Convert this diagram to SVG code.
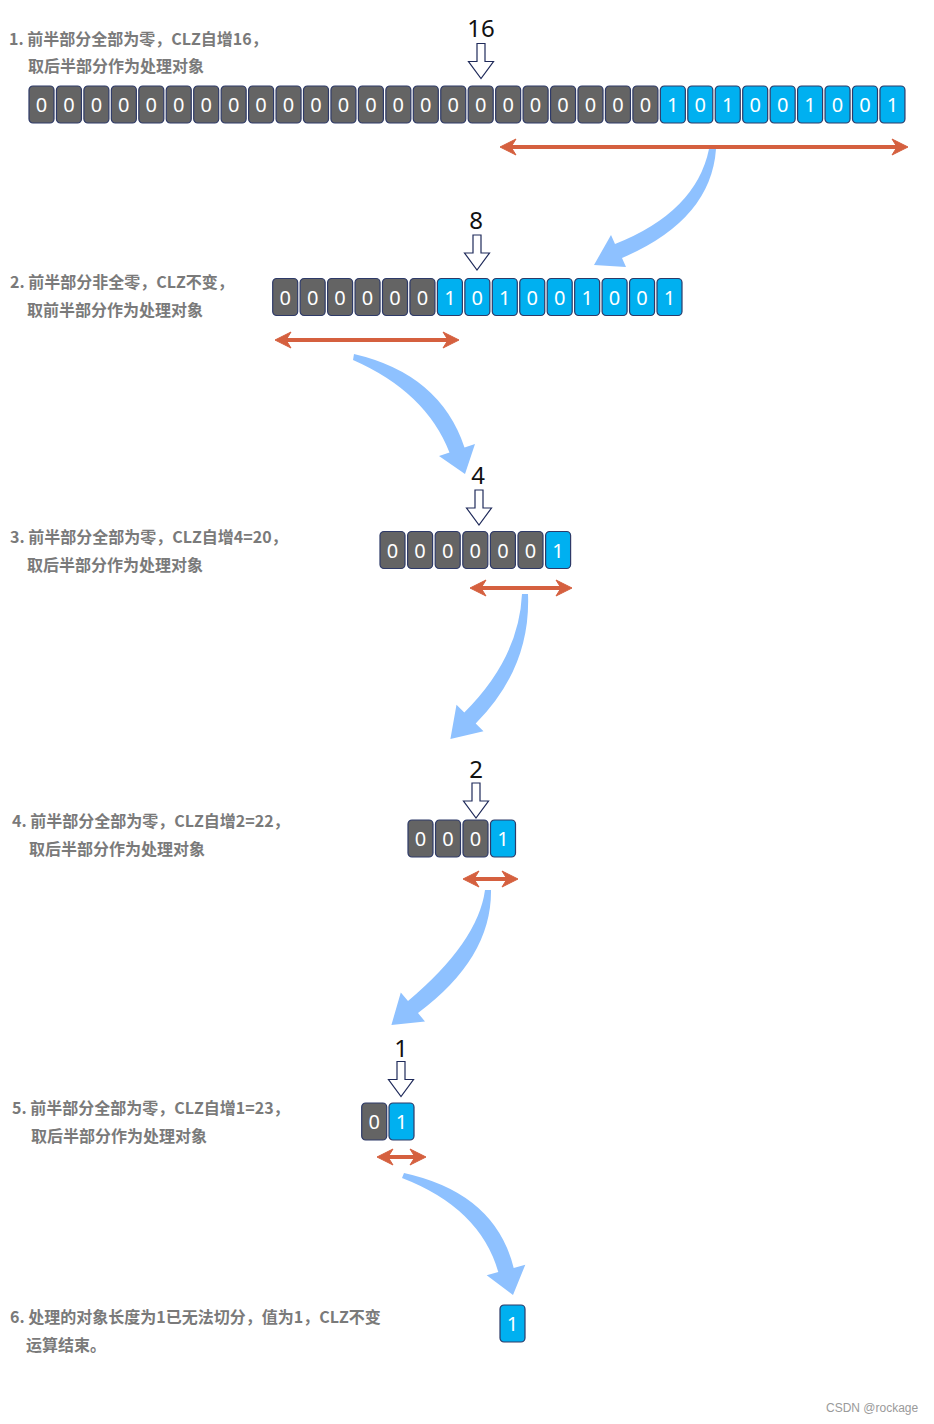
<svg xmlns="http://www.w3.org/2000/svg" xmlns:xlink="http://www.w3.org/1999/xlink" width="934" height="1424" viewBox="0 0 934 1424">
<style>
.lbl{font-family:"Noto Sans CJK SC","Noto Sans",sans-serif;font-weight:bold;font-size:16px;fill:#7a7a7a}
.num{font-family:"Noto Sans","Open Sans",sans-serif;font-size:24px;fill:#111}
.dig{font-family:"Noto Sans","Open Sans",sans-serif;font-size:20px;fill:#fff;text-anchor:middle}
.cg{fill:#646464;stroke:#2e3a68;stroke-width:1.2}
.cb{fill:#00b0f0;stroke:#2e3a68;stroke-width:1.2}
.red{stroke:#d5603f;stroke-width:4;fill:none;marker-start:url(#rh);marker-end:url(#rh)}
.blue{fill:#8ec1ff}
.hol{fill:#fff;stroke:#1f2a5a;stroke-width:1.2}
.wm{font-family:"Liberation Sans",Arial,sans-serif;font-size:12px;fill:#9a9a9a}
</style>
<defs>
<marker id="rh" viewBox="-10 -10 22 20" refX="0" refY="0" markerWidth="22" markerHeight="20" markerUnits="userSpaceOnUse" orient="auto-start-reverse">
<path d="M10,0 L-6,-8 L-1,0 L-6,8 Z" fill="#d5603f" stroke="#d5603f" stroke-width="1" stroke-linejoin="round"/>
</marker>
<g id="z"><rect class="cg" x="0" y="0" width="25" height="37" rx="4"/><text class="dig" x="12.5" y="26">0</text></g>
<g id="bz"><rect class="cb" x="0" y="0" width="25" height="37" rx="4"/><text class="dig" x="12.5" y="26">0</text></g>
<g id="bo"><rect class="cb" x="0" y="0" width="25" height="37" rx="4"/><text class="dig" x="12.5" y="26">1</text></g>
<path id="down" class="hol" d="M-4,-35 H4 V-17 H12.5 L0,0 L-12.5,-17 H-4 Z"/>
</defs>
<rect width="934" height="1424" fill="#fff"/>

<g id="labels">
<text class="lbl" x="9" y="45">1. 前半部分全部为零，CLZ自增16，</text>
<text class="lbl" x="28" y="72">取后半部分作为处理对象</text>
<text class="lbl" x="10" y="288">2. 前半部分非全零，CLZ不变，</text>
<text class="lbl" x="27" y="316">取前半部分作为处理对象</text>
<text class="lbl" x="10" y="543">3. 前半部分全部为零，CLZ自增4=20，</text>
<text class="lbl" x="27" y="571">取后半部分作为处理对象</text>
<text class="lbl" x="12" y="827">4. 前半部分全部为零，CLZ自增2=22，</text>
<text class="lbl" x="29" y="855">取后半部分作为处理对象</text>
<text class="lbl" x="12" y="1114">5. 前半部分全部为零，CLZ自增1=23，</text>
<text class="lbl" x="31" y="1142">取后半部分作为处理对象</text>
<text class="lbl" x="10" y="1323">6. 处理的对象长度为1已无法切分，值为1，CLZ不变</text>
<text class="lbl" x="26" y="1351">运算结束。</text>
</g>

<g id="pointers">
<text class="num" x="481" y="37" text-anchor="middle">16</text>
<use href="#down" x="481" y="78.5"/>
<text class="num" x="476" y="229" text-anchor="middle">8</text>
<use href="#down" x="477" y="270"/>
<text class="num" x="478" y="484" text-anchor="middle">4</text>
<use href="#down" x="479" y="525"/>
<text class="num" x="476" y="778" text-anchor="middle">2</text>
<use href="#down" x="476" y="818"/>
<text class="num" x="401" y="1057" text-anchor="middle">1</text>
<use href="#down" x="401" y="1096.5"/>
</g>

<g id="row1">
<use href="#z" x="29" y="86"/><use href="#z" x="56.45" y="86"/><use href="#z" x="83.9" y="86"/><use href="#z" x="111.35" y="86"/>
<use href="#z" x="138.8" y="86"/><use href="#z" x="166.25" y="86"/><use href="#z" x="193.7" y="86"/><use href="#z" x="221.15" y="86"/>
<use href="#z" x="248.6" y="86"/><use href="#z" x="276.05" y="86"/><use href="#z" x="303.5" y="86"/><use href="#z" x="330.95" y="86"/>
<use href="#z" x="358.4" y="86"/><use href="#z" x="385.85" y="86"/><use href="#z" x="413.3" y="86"/><use href="#z" x="440.75" y="86"/>
<use href="#z" x="468.2" y="86"/><use href="#z" x="495.65" y="86"/><use href="#z" x="523.1" y="86"/><use href="#z" x="550.55" y="86"/>
<use href="#z" x="578" y="86"/><use href="#z" x="605.45" y="86"/><use href="#z" x="632.9" y="86"/>
<use href="#bo" x="660.35" y="86"/><use href="#bz" x="687.8" y="86"/><use href="#bo" x="715.25" y="86"/><use href="#bz" x="742.7" y="86"/>
<use href="#bz" x="770.15" y="86"/><use href="#bo" x="797.6" y="86"/><use href="#bz" x="825.05" y="86"/><use href="#bz" x="852.5" y="86"/>
<use href="#bo" x="879.95" y="86"/>
</g>

<g id="row2">
<use href="#z" x="272.7" y="278.5"/><use href="#z" x="300.15" y="278.5"/><use href="#z" x="327.6" y="278.5"/><use href="#z" x="355.05" y="278.5"/>
<use href="#z" x="382.5" y="278.5"/><use href="#z" x="409.95" y="278.5"/>
<use href="#bo" x="437.4" y="278.5"/><use href="#bz" x="464.85" y="278.5"/><use href="#bo" x="492.3" y="278.5"/><use href="#bz" x="519.75" y="278.5"/>
<use href="#bz" x="547.2" y="278.5"/><use href="#bo" x="574.65" y="278.5"/><use href="#bz" x="602.1" y="278.5"/><use href="#bz" x="629.55" y="278.5"/>
<use href="#bo" x="657" y="278.5"/>
</g>

<g id="row3">
<use href="#z" x="380" y="531.5"/><use href="#z" x="407.6" y="531.5"/><use href="#z" x="435.2" y="531.5"/><use href="#z" x="462.8" y="531.5"/>
<use href="#z" x="490.4" y="531.5"/><use href="#z" x="518" y="531.5"/><use href="#bo" x="545.6" y="531.5"/>
</g>

<g id="row4">
<use href="#z" x="408" y="820"/><use href="#z" x="435.5" y="820"/><use href="#z" x="463" y="820"/><use href="#bo" x="490.5" y="820"/>
</g>

<g id="row5">
<use href="#z" x="361.7" y="1103"/><use href="#bo" x="389" y="1103"/>
</g>

<g id="row6">
<use href="#bo" x="500" y="1305"/>
</g>

<g id="connectors">
<line class="red" x1="510" y1="147" x2="898" y2="147"/>
<line class="red" x1="285" y1="340" x2="449" y2="340"/>
<line class="red" x1="480" y1="588" x2="562" y2="588"/>
<line class="red" x1="473" y1="879" x2="508" y2="879"/>
<line class="red" x1="387" y1="1157" x2="416" y2="1157"/>

<path class="blue" d="M709 149 Q696 212 615 244 L611 235 L594 265 L626 267 L622 258 Q711 220 716 149 Z"/>
<path class="blue" d="M354 354 Q440 374 464.5 447.4 L475 444 L465 474 L439 456 L449.5 452.6 Q426 392 353 360 Z"/>
<path class="blue" d="M528 594 Q531 668 475.7 723.6 L483.5 731.3 L450.4 739 L456.5 704.7 L464.3 712.4 Q519 658 522 594 Z"/>
<path class="blue" d="M491 890 Q492 958 418 1013 L425 1021.6 L391.4 1025 L400.8 992.4 L408 1001 Q478 942 485 890 Z"/>
<path class="blue" d="M404 1173 Q495 1193 513.7 1267.9 L525.3 1264.7 L513 1295 L486.7 1275.3 L498.3 1272.1 Q480 1208 402 1178 Z"/>
</g>

<text class="wm" x="826" y="1412">CSDN @rockage</text>
</svg>
